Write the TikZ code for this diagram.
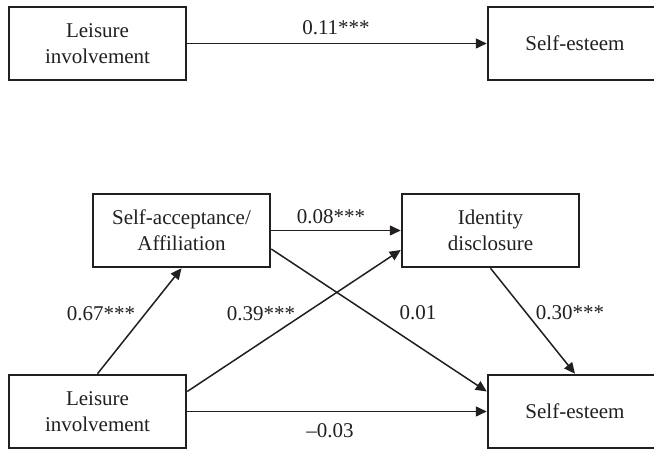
\documentclass[tikz,border=0pt]{standalone}
\usepackage{fontspec}
\setmainfont{Liberation Serif}
\usetikzlibrary{arrows.meta}
\definecolor{ink}{HTML}{231F20}
\tikzset{
  varbox/.style={draw=ink, line width=2.5pt, minimum width=177pt, minimum height=73pt,
    inner sep=0pt, align=center, font=\fontsize{21}{26}\selectfont, text=ink},
  path/.style={draw=ink, line width=1.5pt, -{Triangle[length=11pt,width=10pt]}},
  coef/.style={font=\fontsize{21}{26}\selectfont, text=ink, inner sep=0pt}
}
\begin{document}
\begin{tikzpicture}[x=1pt,y=-1pt]
\useasboundingbox (0,0) rectangle (654,449);
\clip (0,0) rectangle (654,449);
% top model
\node[varbox] (L1) at (97.5,43.5) {Leisure\\involvement};
\node[varbox, minimum width=174pt] (S1) at (575,43.5) {Self-esteem};
\draw[path] (L1.east) -- (S1.west);
\node[coef] (c1) at (336,28) {0.11***};
% bottom model
\node[varbox] (SA) at (181.5,230.5) {Self-acceptance/\\Affiliation};
\node[varbox] (ID) at (490.5,230.5) {Identity\\disclosure};
\node[varbox] (L2) at (97.5,411.5) {Leisure\\involvement};
\node[varbox, minimum width=174pt] (SE) at (575,411.5) {Self-esteem};
\draw[path] (L2.north) -- (SA.south);
\draw[path] ([yshift=20pt]L2.east) -- ([yshift=-19.5pt]ID.west);
\draw[path] (L2.east) -- (SE.west);
\draw[path] (SA.east) -- (ID.west);
\draw[path] ([yshift=-18.5pt]SA.east) -- ([yshift=20pt]SE.west);
\draw[path] (ID.south) -- (SE.north);
\node[coef] (c2) at (331,217) {0.08***};
\node[coef] (c3) at (101,314) {0.67***};
\node[coef] (c4) at (261,314) {0.39***};
\node[coef] (c5) at (418,313) {0.01};
\node[coef] (c6) at (570,313) {0.30***};
\node[coef] (c7) at (330,431) {--0.03};
\end{tikzpicture}
\end{document}
